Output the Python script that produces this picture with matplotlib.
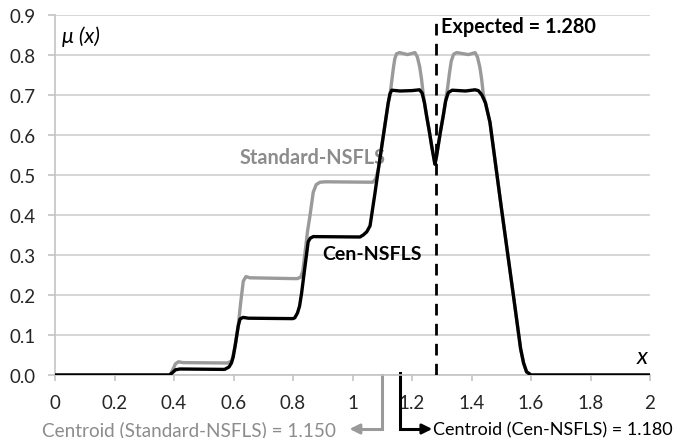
import matplotlib
matplotlib.use("Agg")
import matplotlib.pyplot as plt

# ---- data ----
cen_x = [0.0, 0.385, 0.395, 0.405, 0.42, 0.57, 0.585, 0.593, 0.599, 0.607, 0.616, 0.622, 0.632, 0.65,
         0.79, 0.80, 0.806, 0.815, 0.822, 0.829, 0.840, 0.851, 0.858, 0.868,
         1.025, 1.036, 1.048, 1.059, 1.0756, 1.087, 1.10, 1.113, 1.12, 1.126, 1.132, 1.16, 1.20, 1.225,
         1.234, 1.242, 1.249, 1.258, 1.266, 1.272, 1.277, 1.282, 1.288, 1.296, 1.305, 1.313, 1.322, 1.335,
         1.38, 1.412, 1.423, 1.435, 1.447, 1.462, 1.50, 1.541, 1.565, 1.575, 1.585, 1.60, 2.0]
cen_y = [0.0, 0.0, 0.006, 0.013, 0.015, 0.014, 0.02, 0.03, 0.045, 0.08, 0.123, 0.14, 0.144, 0.142,
         0.141, 0.141, 0.143, 0.155, 0.172, 0.205, 0.27, 0.333, 0.342, 0.346,
         0.345, 0.35, 0.358, 0.373, 0.455, 0.515, 0.58, 0.645, 0.68, 0.703, 0.712, 0.71, 0.711, 0.713,
         0.705, 0.68, 0.648, 0.61, 0.573, 0.548, 0.527, 0.545, 0.573, 0.61, 0.648, 0.685, 0.706, 0.712,
         0.71, 0.713, 0.711, 0.70, 0.68, 0.632, 0.42, 0.198, 0.066, 0.03, 0.008, 0.0, 0.0]

std_x = [0.0, 0.387, 0.397, 0.405, 0.415, 0.43, 0.58, 0.594, 0.605, 0.616, 0.624, 0.633, 0.642, 0.655,
         0.80, 0.815, 0.826, 0.833, 0.841, 0.849, 0.857, 0.868, 0.878, 0.891, 0.91,
         1.06, 1.068, 1.078, 1.087, 1.10, 1.113, 1.12, 1.126, 1.132, 1.137, 1.142, 1.148, 1.158, 1.185, 1.21,
         1.218, 1.226, 1.232, 1.238, 1.242, 1.249, 1.258, 1.266, 1.272, 1.277, 1.282, 1.288, 1.296, 1.305,
         1.313, 1.32, 1.326, 1.332, 1.34, 1.35, 1.39, 1.412, 1.42, 1.428, 1.434, 1.44, 1.447, 1.462,
         1.50, 1.541, 1.565, 1.575, 1.585, 1.60, 2.0]
std_y = [0.0, 0.0, 0.015, 0.028, 0.033, 0.031, 0.03, 0.035, 0.07, 0.123, 0.18, 0.235, 0.246, 0.243,
         0.241, 0.241, 0.245, 0.26, 0.31, 0.36, 0.398, 0.457, 0.476, 0.482, 0.483,
         0.482, 0.482, 0.49, 0.515, 0.58, 0.645, 0.68, 0.70, 0.735, 0.765, 0.79, 0.803, 0.806, 0.801, 0.806,
         0.795, 0.77, 0.74, 0.70, 0.68, 0.648, 0.61, 0.573, 0.548, 0.527, 0.545, 0.573, 0.61, 0.648,
         0.685, 0.72, 0.755, 0.785, 0.802, 0.806, 0.801, 0.806, 0.795, 0.77, 0.74, 0.70, 0.68, 0.632,
         0.42, 0.198, 0.066, 0.03, 0.008, 0.0, 0.0]

x_ticks = [0, 0.2, 0.4, 0.6, 0.8, 1.0, 1.2, 1.4, 1.6, 1.8, 2.0]
x_tick_labels = ["0", "0.2", "0.4", "0.6", "0.8", "1", "1.2", "1.4", "1.6", "1.8", "2"]
y_ticks = [0.0, 0.1, 0.2, 0.3, 0.4, 0.5, 0.6, 0.7, 0.8, 0.9]
y_tick_labels = ["0.0", "0.1", "0.2", "0.3", "0.4", "0.5", "0.6", "0.7", "0.8", "0.9"]

expected = 1.28
centroid_std = 1.150
centroid_cen = 1.180

# ---- styling ----
plt.rcParams['font.family'] = ['Lato', 'DejaVu Sans']
GRAY_LINE = '#9a9a9a'
GRAY_TEXT = '#8c8c8c'
TEXT = '#262626'
GRID = '#cfcfcf'

fig = plt.figure(figsize=(6.83, 4.39), dpi=100)
ax = fig.add_axes([55/683, 1 - 376/439, 595/683, 360/439])

ax.set_xlim(0, 2)
ax.set_ylim(0, 0.9)
ax.set_xticks(x_ticks)
ax.set_xticklabels(x_tick_labels)
ax.set_yticks(y_ticks)
ax.set_yticklabels(y_tick_labels)

for s in ['top', 'right']:
    ax.spines[s].set_visible(False)
ax.spines['left'].set_color('#c4c4c4')
ax.spines['bottom'].set_color('#c4c4c4')
ax.spines['left'].set_linewidth(1.2)
ax.spines['bottom'].set_linewidth(1.2)

ax.yaxis.grid(True, color=GRID, linewidth=1.2)
ax.set_axisbelow(True)
ax.tick_params(axis='y', length=5, width=1.2, color='#c4c4c4', pad=9, labelsize=13.5, labelcolor=TEXT)
ax.tick_params(axis='x', length=4, width=1.2, color='#c4c4c4', pad=10, labelsize=13.5, labelcolor=TEXT)

ax.plot(std_x, std_y, color=GRAY_LINE, linewidth=2.4, solid_joinstyle='round', zorder=3)
ax.plot(cen_x, cen_y, color='black', linewidth=2.4, solid_joinstyle='round', zorder=4)

ax.plot([expected, expected], [0, 0.9], color='black', linewidth=2.0,
        linestyle=(0, (4.2, 3.0)), zorder=5)

ax.text(1.296, 0.872, "Expected = 1.280", fontsize=14.3, fontweight='bold', color='black',
        va='center', ha='left')
ax.text(0.62, 0.545, "Standard-NSFLS", fontsize=14.3, fontweight='bold', color=GRAY_TEXT,
        va='center', ha='left')
ax.text(0.898, 0.305, "Cen-NSFLS", fontsize=14, fontweight='bold', color='black',
        va='center', ha='left')
ax.text(0.025, 0.848, "\u03bc (x)", fontsize=15.5, style='italic', color='black',
        va='center', ha='left')
ax.text(1.955, 0.045, "x", fontsize=17, style='italic', color='black',
        va='center', ha='left')

# centroid annotations below the axis
yb = -0.135
ax.plot([1.10, 1.10, 1.02], [0.0, yb, yb], color=GRAY_LINE, linewidth=2.2, clip_on=False,
        solid_joinstyle='miter')
ax.annotate("", xy=(0.99, yb), xytext=(1.03, yb), annotation_clip=False,
            arrowprops=dict(arrowstyle='-|>,head_length=0.6,head_width=0.3', color=GRAY_LINE, lw=2.0,
                            shrinkA=0, shrinkB=0))
ax.text(0.945, yb, "Centroid (Standard-NSFLS) = %.3f" % centroid_std, fontsize=13.6, color=GRAY_TEXT,
        va='center', ha='right')

ax.plot([1.16, 1.16, 1.24], [0.005, yb, yb], color='black', linewidth=2.2, clip_on=False,
        solid_joinstyle='miter')
ax.annotate("", xy=(1.268, yb), xytext=(1.23, yb), annotation_clip=False,
            arrowprops=dict(arrowstyle='-|>,head_length=0.6,head_width=0.3', color='black', lw=2.0,
                            shrinkA=0, shrinkB=0))
ax.text(1.272, yb, "Centroid (Cen-NSFLS) = %.3f" % centroid_cen, fontsize=13, color='black',
        va='center', ha='left')

fig.savefig("out.png", dpi=100)
